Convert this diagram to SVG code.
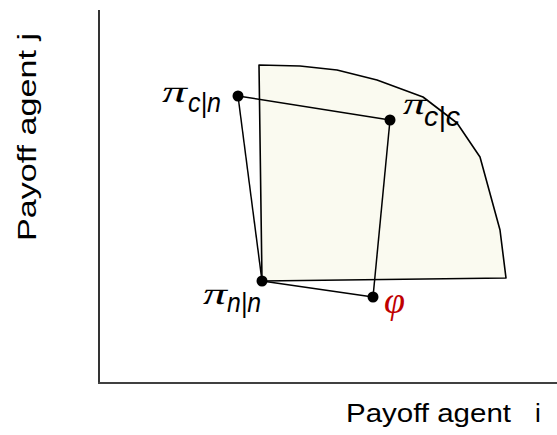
<svg xmlns="http://www.w3.org/2000/svg" width="557" height="435" viewBox="0 0 557 435">
<style>
.ax{stroke:#000;stroke-width:1.6;fill:none}
.ln{stroke:#000;stroke-width:1.5;fill:none}
.dot{fill:#000}
.pi{font-family:"Liberation Serif",serif;font-size:31px;fill:#000}
.sub{font-family:"Liberation Sans",Arial,sans-serif;font-style:italic;font-size:27px;fill:#000}
.lab{font-family:"Liberation Sans",Arial,sans-serif;font-size:26px;fill:#000}
</style>
<rect width="557" height="435" fill="#fff"/>
<g id="axes">
<line class="ax" x1="99" y1="10" x2="99" y2="383"/>
<line x1="98" y1="383" x2="557" y2="383" stroke="#404040" stroke-width="2"/>
</g>
<g id="region">
<path d="M259,65 L300,66 L337,70 L377,80 L423,97 L457,123 L480,157 L500,230 L506,278 L262,281 Z" fill="#fafaf0" stroke="#000" stroke-width="1.6" stroke-linejoin="round"/>
</g>
<g id="connectors">
<line class="ln" x1="238" y1="96" x2="390" y2="120"/>
<line class="ln" x1="238" y1="96" x2="262" y2="281"/>
<line class="ln" x1="390" y1="120" x2="373" y2="297"/>
<line class="ln" x1="262" y1="281" x2="373" y2="297"/>
</g>
<g id="pi-cn">
<circle class="dot" cx="238" cy="96" r="5.5"/>
<text class="pi" transform="translate(160,102) skewX(-15)" textLength="25" lengthAdjust="spacingAndGlyphs">π</text>
<text class="sub" x="188" y="112" textLength="33" lengthAdjust="spacingAndGlyphs">c|n</text>
</g>
<g id="pi-cc">
<circle class="dot" cx="390" cy="120" r="5.5"/>
<text class="pi" transform="translate(401,114) skewX(-15)" textLength="23" lengthAdjust="spacingAndGlyphs">π</text>
<text class="sub" x="424" y="126" textLength="36" lengthAdjust="spacingAndGlyphs">c|c</text>
</g>
<g id="pi-nn">
<circle class="dot" cx="262" cy="281" r="5.5"/>
<text class="pi" transform="translate(201,304) skewX(-15)" textLength="24" lengthAdjust="spacingAndGlyphs">π</text>
<text class="sub" x="227" y="312" textLength="34" lengthAdjust="spacingAndGlyphs">n|n</text>
</g>
<g id="phi">
<circle class="dot" cx="373" cy="297" r="5.5"/>
<text x="384" y="313" font-family="Liberation Serif,serif" font-style="italic" font-size="38" fill="#c00000">φ</text>
</g>
<g id="labels">
<text class="lab" x="346" y="422" textLength="165" lengthAdjust="spacingAndGlyphs">Payoff agent</text>
<text class="lab" x="535" y="422">i</text>
<text class="lab" transform="translate(36,241) rotate(-90)" x="0" y="0" textLength="208" lengthAdjust="spacingAndGlyphs">Payoff agent j</text>
</g>
</svg>
